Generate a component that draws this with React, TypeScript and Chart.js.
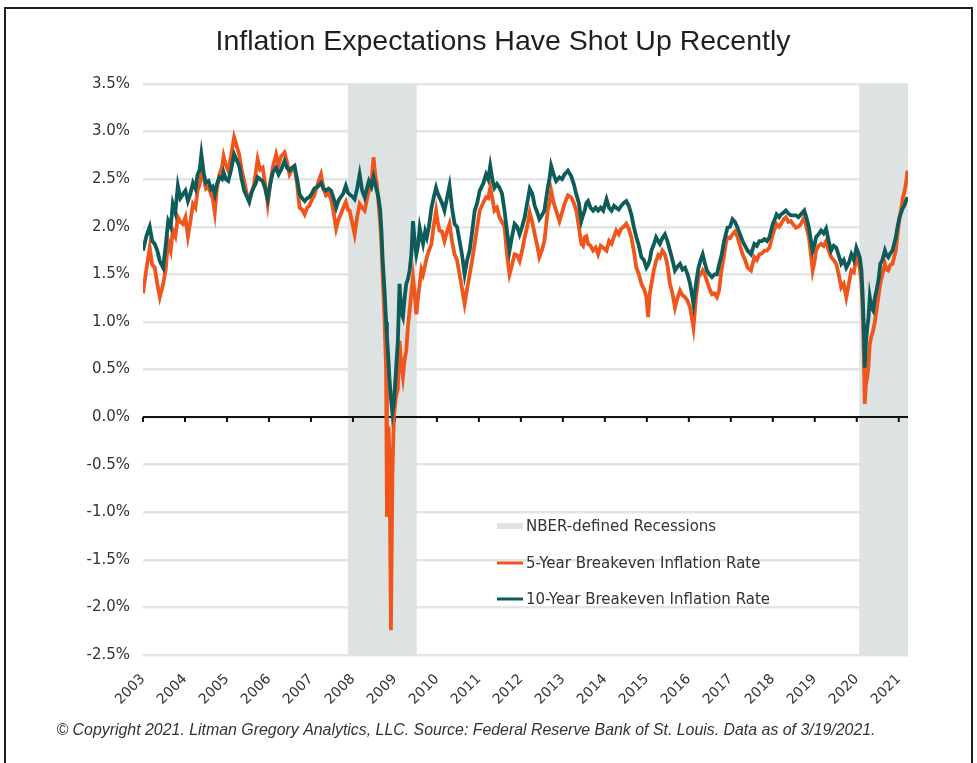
import React, { useEffect, useRef } from "react";
import { Chart, registerables } from "chart.js";

Chart.register(...registerables);

// ---- Data (decimal years) ----
const dates: number[] = [
  2003.0, 2003.08, 2003.16, 2003.22, 2003.28, 2003.34, 2003.4, 2003.48, 2003.54, 2003.6, 2003.66, 2003.71, 2003.77, 2003.83, 2003.89, 2003.95,
  2004.01, 2004.07, 2004.13, 2004.19, 2004.25, 2004.3, 2004.35, 2004.39, 2004.45, 2004.5, 2004.56, 2004.62, 2004.66, 2004.71, 2004.76, 2004.82, 2004.88, 2004.92, 2004.97,
  2005.03, 2005.1, 2005.17, 2005.23, 2005.29, 2005.35, 2005.41, 2005.47, 2005.53, 2005.58, 2005.63, 2005.68, 2005.73, 2005.79, 2005.85, 2005.91, 2005.97,
  2006.03, 2006.09, 2006.17, 2006.23, 2006.29, 2006.37, 2006.43, 2006.49, 2006.55, 2006.61, 2006.67, 2006.73, 2006.79, 2006.85, 2006.91, 2006.96,
  2007.02, 2007.08, 2007.16, 2007.24, 2007.3, 2007.36, 2007.42, 2007.48, 2007.54, 2007.6, 2007.66, 2007.71, 2007.77, 2007.83, 2007.88, 2007.92, 2007.98,
  2008.04, 2008.1, 2008.16, 2008.22, 2008.28, 2008.33, 2008.38, 2008.44, 2008.49, 2008.53, 2008.57, 2008.61, 2008.65, 2008.68, 2008.71, 2008.75, 2008.79, 2008.81, 2008.845, 2008.87, 2008.905, 2008.94, 2008.975,
  2009.02, 2009.07, 2009.11, 2009.15, 2009.19, 2009.23, 2009.27, 2009.31, 2009.35, 2009.39, 2009.43, 2009.47, 2009.51, 2009.55, 2009.59, 2009.63, 2009.67, 2009.72, 2009.76, 2009.81, 2009.87, 2009.92, 2009.98,
  2010.02, 2010.06, 2010.12, 2010.18, 2010.24, 2010.3, 2010.36, 2010.42, 2010.48, 2010.54, 2010.6, 2010.66, 2010.72, 2010.78, 2010.84, 2010.9, 2010.96,
  2011.02, 2011.1, 2011.17, 2011.22, 2011.27, 2011.32, 2011.37, 2011.43, 2011.49, 2011.55, 2011.61, 2011.67, 2011.73, 2011.79, 2011.85, 2011.91, 2011.97,
  2012.03, 2012.09, 2012.15, 2012.21, 2012.27, 2012.33, 2012.39, 2012.44, 2012.5, 2012.56, 2012.64, 2012.68, 2012.72, 2012.78, 2012.84, 2012.92, 2012.98,
  2013.04, 2013.12, 2013.2, 2013.26, 2013.32, 2013.38, 2013.44, 2013.48, 2013.52, 2013.56, 2013.6, 2013.66, 2013.72, 2013.78, 2013.84, 2013.9, 2013.96,
  2014.04, 2014.1, 2014.16, 2014.22, 2014.27, 2014.33, 2014.39, 2014.45, 2014.51, 2014.57, 2014.63, 2014.69, 2014.75, 2014.81, 2014.87, 2014.93, 2014.99,
  2015.03, 2015.07, 2015.11, 2015.17, 2015.22, 2015.27, 2015.31, 2015.37, 2015.43, 2015.49, 2015.55, 2015.61, 2015.67, 2015.73, 2015.79, 2015.85, 2015.91, 2015.97,
  2016.03, 2016.07, 2016.11, 2016.17, 2016.23, 2016.28, 2016.33, 2016.38, 2016.43, 2016.49, 2016.55, 2016.61, 2016.67, 2016.72, 2016.78, 2016.84, 2016.88, 2016.92, 2016.98,
  2017.04, 2017.1, 2017.16, 2017.22, 2017.28, 2017.34, 2017.4, 2017.48, 2017.56, 2017.62, 2017.68, 2017.74, 2017.8, 2017.86, 2017.92,
  2018.0, 2018.05, 2018.09, 2018.15, 2018.2, 2018.26, 2018.31, 2018.37, 2018.43, 2018.49, 2018.55, 2018.61, 2018.67, 2018.75, 2018.8, 2018.86, 2018.91, 2018.95,
  2019.0, 2019.03, 2019.09, 2019.15, 2019.21, 2019.27, 2019.33, 2019.39, 2019.45, 2019.51, 2019.57, 2019.63, 2019.69, 2019.75, 2019.81, 2019.87, 2019.93, 2019.99,
  2020.04, 2020.07, 2020.11, 2020.14, 2020.17, 2020.19, 2020.22, 2020.25, 2020.28, 2020.31, 2020.35, 2020.39, 2020.43, 2020.47, 2020.52, 2020.56, 2020.61, 2020.67, 2020.71, 2020.75, 2020.8, 2020.85, 2020.89, 2020.93, 2020.97,
  2021.02, 2021.06, 2021.1, 2021.14, 2021.17, 2021.21,
];

const tenYear: number[] = [
  1.75, 1.9, 2.0, 1.85, 1.82, 1.75, 1.64, 1.57, 1.8, 2.06, 2.0, 2.24, 2.15, 2.43, 2.3, 2.34,
  2.38, 2.27, 2.35, 2.46, 2.4, 2.55, 2.6, 2.76, 2.55, 2.46, 2.48, 2.4, 2.42, 2.34, 2.45, 2.52, 2.5, 2.57, 2.5,
  2.48, 2.6, 2.76, 2.7, 2.64, 2.5, 2.38, 2.32, 2.26, 2.35, 2.41, 2.45, 2.52, 2.5, 2.48, 2.4, 2.29,
  2.45, 2.57, 2.62, 2.55, 2.6, 2.69, 2.62, 2.59, 2.62, 2.64, 2.5, 2.34, 2.3, 2.27, 2.3, 2.31,
  2.35, 2.4, 2.42, 2.46, 2.4, 2.38, 2.4, 2.38, 2.3, 2.2, 2.28, 2.31, 2.35, 2.43, 2.36, 2.34, 2.32,
  2.29, 2.4, 2.55, 2.38, 2.31, 2.4, 2.48, 2.42, 2.52, 2.45, 2.38, 2.3, 2.17, 1.95, 1.64, 1.35, 1.0, 0.85, 0.6, 0.4, 0.2, 0.05, 0.15,
  0.45, 0.8, 1.4, 1.1, 1.05, 1.25, 1.4, 1.45, 1.54, 1.7, 2.06, 1.85, 1.71, 1.8, 1.99, 1.9, 1.82, 1.95, 1.89, 2.0, 2.2, 2.3, 2.41,
  2.35, 2.31, 2.25, 2.17, 2.3, 2.43, 2.2, 2.03, 2.0, 1.85, 1.7, 1.5, 1.65, 1.75, 1.95, 2.17, 2.25,
  2.38, 2.45, 2.55, 2.5, 2.64, 2.5, 2.41, 2.45, 2.41, 2.35, 2.17, 1.95, 1.75, 1.9, 2.03, 2.0, 1.92,
  2.0, 2.1, 2.25, 2.4, 2.35, 2.22, 2.15, 2.08, 2.12, 2.17, 2.41, 2.5, 2.64, 2.55, 2.48, 2.52, 2.5,
  2.55, 2.59, 2.53, 2.45, 2.34, 2.25, 2.06, 2.12, 2.17, 2.25, 2.27, 2.2, 2.17, 2.2, 2.17, 2.2, 2.17,
  2.29, 2.2, 2.17, 2.22, 2.2, 2.18, 2.22, 2.25, 2.27, 2.22, 2.13, 2.0, 1.89, 1.8, 1.68, 1.65, 1.57,
  1.6, 1.65, 1.75, 1.82, 1.89, 1.85, 1.82, 1.88, 1.92, 1.85, 1.75, 1.65, 1.54, 1.58, 1.61, 1.55, 1.57, 1.5,
  1.4, 1.3, 1.19, 1.4, 1.57, 1.65, 1.71, 1.62, 1.54, 1.5, 1.47, 1.5, 1.5, 1.6, 1.7, 1.85, 1.92, 1.99, 2.0,
  2.08, 2.05, 1.99, 1.92, 1.85, 1.8, 1.75, 1.71, 1.82, 1.8, 1.85, 1.85, 1.87, 1.85, 1.89,
  2.03, 2.08, 2.13, 2.1, 2.13, 2.15, 2.17, 2.14, 2.12, 2.12, 2.12, 2.1, 2.13, 2.17, 2.1, 1.99, 1.85, 1.75,
  1.82, 1.89, 1.92, 1.96, 1.93, 1.98, 1.85, 1.75, 1.8, 1.78, 1.7, 1.61, 1.65, 1.57, 1.62, 1.71, 1.65, 1.78,
  1.72, 1.68, 1.55, 1.29, 0.9, 0.52, 0.8, 0.94, 1.05, 1.26, 1.15, 1.12, 1.25, 1.33, 1.45, 1.61, 1.65, 1.75, 1.7, 1.68, 1.72, 1.75, 1.82, 1.89, 2.0,
  2.1, 2.15, 2.2, 2.23, 2.27, 2.31,
];

const fiveYear: number[] = [
  1.3, 1.55, 1.78, 1.6, 1.57, 1.4, 1.26, 1.4, 1.55, 1.85, 1.75, 1.96, 1.9, 2.1, 2.05, 2.03,
  2.1, 1.9, 2.06, 2.24, 2.2, 2.38, 2.45, 2.55, 2.5, 2.4, 2.42, 2.34, 2.3, 2.15, 2.4, 2.55, 2.62, 2.74, 2.65,
  2.59, 2.75, 2.94, 2.85, 2.76, 2.6, 2.48, 2.35, 2.29, 2.36, 2.41, 2.55, 2.71, 2.6, 2.62, 2.45, 2.24,
  2.45, 2.62, 2.76, 2.65, 2.74, 2.78, 2.68, 2.55, 2.6, 2.62, 2.45, 2.2, 2.18, 2.13, 2.2, 2.22,
  2.28, 2.33, 2.45, 2.55, 2.4, 2.33, 2.35, 2.29, 2.15, 1.98, 2.08, 2.13, 2.2, 2.26, 2.18, 2.17, 2.05,
  1.92, 2.1, 2.24, 2.2, 2.17, 2.28, 2.38, 2.45, 2.73, 2.55, 2.45, 2.25, 2.03, 1.8, 1.47, 1.05, 0.5, -1.05, -0.1, -0.4, -2.24, -0.6, 0.0,
  0.2, 0.3, 0.8, 0.55, 0.42, 0.6, 0.7, 0.95, 1.12, 1.3, 1.47, 1.3, 1.08, 1.25, 1.4, 1.55, 1.5, 1.6, 1.68, 1.75, 1.82, 2.0, 2.17,
  2.05, 1.96, 1.95, 1.85, 1.95, 2.03, 1.85, 1.71, 1.65, 1.5, 1.35, 1.19, 1.35, 1.5, 1.65, 1.82, 2.0,
  2.17, 2.25, 2.31, 2.3, 2.41, 2.3, 2.17, 2.2, 2.1, 2.05, 2.0, 1.7, 1.5, 1.6, 1.71, 1.7, 1.64,
  1.75, 1.89, 2.0, 2.15, 2.05, 1.92, 1.8, 1.68, 1.75, 1.85, 2.17, 2.25, 2.38, 2.25, 2.17, 2.06, 2.15,
  2.24, 2.33, 2.31, 2.25, 2.17, 2.0, 1.82, 1.8, 1.89, 1.9, 1.82, 1.8, 1.75, 1.78, 1.71, 1.8, 1.78,
  1.75, 1.85, 1.82, 1.9, 1.96, 1.92, 1.98, 2.0, 2.03, 1.98, 1.89, 1.75, 1.57, 1.5, 1.4, 1.35, 1.26,
  1.05, 1.3, 1.4, 1.55, 1.64, 1.7, 1.68, 1.75, 1.71, 1.6, 1.4, 1.3, 1.15, 1.25, 1.33, 1.28, 1.26, 1.22,
  1.15, 1.05, 0.94, 1.25, 1.47, 1.5, 1.54, 1.5, 1.43, 1.35, 1.29, 1.3, 1.26, 1.33, 1.55, 1.7, 1.82, 1.89, 1.88,
  1.92, 1.95, 1.89, 1.8, 1.71, 1.65, 1.57, 1.54, 1.68, 1.65, 1.71, 1.72, 1.75, 1.75, 1.78,
  1.92, 1.98, 2.03, 2.0, 2.03, 2.08, 2.1, 2.05, 2.06, 2.02, 1.99, 2.0, 2.03, 2.1, 2.0, 1.89, 1.7, 1.54,
  1.65, 1.75, 1.8, 1.82, 1.8, 1.85, 1.75, 1.68, 1.65, 1.61, 1.5, 1.36, 1.4, 1.26, 1.4, 1.54, 1.52, 1.68,
  1.62, 1.57, 1.4, 1.12, 0.6, 0.14, 0.35, 0.42, 0.55, 0.77, 0.85, 0.91, 1.0, 1.12, 1.28, 1.4, 1.5, 1.61, 1.55, 1.54, 1.6, 1.61, 1.68, 1.75, 1.92,
  2.1, 2.2, 2.31, 2.38, 2.45, 2.59,
];

const recessions: [number, number][] = [
  [2007.88, 2009.52],
  [2020.06, 2021.22],
];

const yearTicks: number[] = [
  2003, 2004, 2005, 2006, 2007, 2008, 2009, 2010, 2011, 2012, 2013, 2014, 2015, 2016, 2017, 2018, 2019, 2020, 2021,
];

const xMin = 2003;
const xMax = 2021.22;
const yMin = -2.5;
const yMax = 3.5;

const TITLE = "Inflation Expectations Have Shot Up Recently";
const FOOTER =
  "\u00A9 Copyright 2021. Litman Gregory Analytics, LLC. Source: Federal Reserve Bank of St. Louis. Data as of 3/19/2021.";
const LEGEND_LABELS = [
  "NBER-defined Recessions",
  "5-Year Breakeven Inflation Rate",
  "10-Year Breakeven Inflation Rate",
];

// ---- Styles ----
const ORANGE = "#f0561c";
const TEAL = "#0e5c5a";
const SHADE = "#dde3e3";
const GRID = "#e2e6e6";
const TEXT = "#333333";
const AXIS_FONT = "DejaVu Sans";

const decorPlugin = {
  id: "decor",
  beforeDraw(chart: any) {
    const { ctx } = chart;
    ctx.save();
    ctx.fillStyle = "#ffffff";
    ctx.fillRect(0, 0, chart.width, chart.height);
    ctx.strokeStyle = "#1e1e1e";
    ctx.lineWidth = 2;
    ctx.strokeRect(5, 8, 967, 800);
    ctx.restore();
  },
  beforeDatasetsDraw(chart: any) {
    const { ctx, chartArea: a, scales } = chart;
    const x = scales.x;
    const y = scales.y;
    ctx.save();
    ctx.fillStyle = SHADE;
    recessions.forEach(([s, e]) => {
      const x0 = Math.max(a.left, x.getPixelForValue(s));
      const x1 = Math.min(a.right, x.getPixelForValue(e));
      ctx.fillRect(x0, a.top, x1 - x0, a.bottom - a.top);
    });
    const y0 = y.getPixelForValue(0);
    ctx.strokeStyle = "#111111";
    ctx.lineWidth = 2;
    ctx.beginPath();
    ctx.moveTo(a.left, y0);
    ctx.lineTo(a.right, y0);
    yearTicks.forEach((t) => {
      const px = x.getPixelForValue(t);
      ctx.moveTo(px, y0);
      ctx.lineTo(px, y0 + 5);
    });
    ctx.stroke();
    ctx.restore();
  },
  afterDraw(chart: any) {
    const { ctx } = chart;
    ctx.save();
    // title
    ctx.fillStyle = "#1f1f1f";
    ctx.font = "28.5px 'Liberation Sans', Arial, sans-serif";
    ctx.textAlign = "center";
    ctx.textBaseline = "middle";
    ctx.fillText(TITLE, 503, 42);
    // footer
    ctx.fillStyle = TEXT;
    ctx.font = "italic 15.9px 'Liberation Sans', Arial, sans-serif";
    ctx.fillText(FOOTER, 466, 731);
    // legend
    ctx.textAlign = "left";
    ctx.font = `15px '${AXIS_FONT}'`;
    const lx = 497;
    const rows = [526, 563, 599];
    ctx.fillStyle = SHADE;
    ctx.fillRect(lx, rows[0] - 3, 26, 6);
    ctx.lineWidth = 3;
    ctx.strokeStyle = ORANGE;
    ctx.beginPath();
    ctx.moveTo(lx, rows[1]);
    ctx.lineTo(lx + 26, rows[1]);
    ctx.stroke();
    ctx.strokeStyle = TEAL;
    ctx.beginPath();
    ctx.moveTo(lx, rows[2]);
    ctx.lineTo(lx + 26, rows[2]);
    ctx.stroke();
    ctx.fillStyle = TEXT;
    LEGEND_LABELS.forEach((t, i) => ctx.fillText(t, lx + 29, rows[i] + 1));
    ctx.restore();
  },
};

export default function App() {
  const ref = useRef<HTMLCanvasElement>(null);
  useEffect(() => {
    const canvas = ref.current;
    if (!canvas) return;
    const chart = new Chart(canvas, {
      type: "line",
      data: {
        datasets: [
          {
            label: LEGEND_LABELS[2],
            data: dates.map((d, i) => ({ x: d, y: tenYear[i] })),
            borderColor: TEAL,
            backgroundColor: TEAL,
            borderWidth: 3.8,
            pointRadius: 0,
            tension: 0,
            order: 1,
          },
          {
            label: LEGEND_LABELS[1],
            data: dates.map((d, i) => ({ x: d, y: fiveYear[i] })),
            borderColor: ORANGE,
            backgroundColor: ORANGE,
            borderWidth: 3.8,
            pointRadius: 0,
            tension: 0,
            order: 2,
          },
        ],
      },
      options: {
        animation: false,
        responsive: false,
        maintainAspectRatio: false,
        layout: { padding: { left: 0, right: 69, top: 84, bottom: 0 } },
        plugins: {
          legend: { display: false },
          tooltip: { enabled: false },
          title: { display: false },
        },
        scales: {
          x: {
            type: "linear",
            min: xMin,
            max: xMax,
            afterBuildTicks: (s: any) => {
              s.ticks = yearTicks.map((v) => ({ value: v }));
            },
            afterFit: (s: any) => {
              s.height = 108;
            },
            grid: { display: false },
            border: { display: false },
            ticks: {
              autoSkip: false,
              minRotation: 45,
              maxRotation: 45,
              padding: 8,
              color: TEXT,
              font: { family: AXIS_FONT, size: 14 },
              callback: (v: any) => String(v),
            },
          },
          y: {
            min: yMin,
            max: yMax,
            afterFit: (s: any) => {
              s.width = 143;
            },
            grid: { color: GRID, lineWidth: 2.5, drawTicks: false },
            border: { display: false },
            ticks: {
              stepSize: 0.5,
              padding: 13,
              color: TEXT,
              font: { family: AXIS_FONT, size: 15 },
              callback: (v: any) => Number(v).toFixed(1) + "%",
            },
          },
        },
      },
      plugins: [decorPlugin],
    } as any);
    return () => chart.destroy();
  }, []);
  return (
    <div style={{ position: "fixed", left: 0, top: 0, width: 977, height: 763, background: "#fff" }}>
      <canvas ref={ref} width={977} height={763} style={{ width: 977, height: 763, display: "block" }} />
    </div>
  );
}
